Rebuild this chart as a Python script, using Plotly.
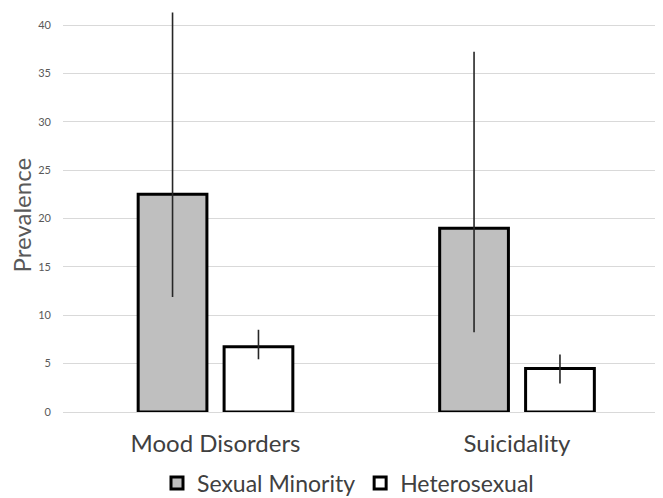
import plotly.graph_objects as go

categories = ["Mood Disorders", "Suicidality"]
series_names = ["Sexual Minority", "Heterosexual"]
minority = [22.5, 19.0]
minority_upper = [41.3, 37.25]
minority_lower = [11.9, 8.25]
hetero = [6.75, 4.5]
hetero_upper = [8.5, 5.95]
hetero_lower = [5.45, 2.95]
y_ticks = [0, 5, 10, 15, 20, 25, 30, 35, 40]

FONT = "Lato, Open Sans, sans-serif"

def err(vals, up, lo, color):
    return dict(type="data", symmetric=False,
                array=[u - v for u, v in zip(up, vals)],
                arrayminus=[v - l for v, l in zip(vals, lo)],
                color=color, thickness=1.6, width=0)

fig = go.Figure()
fig.add_trace(go.Bar(
    name=series_names[0], x=categories, y=minority,
    marker=dict(color="#bfbfbf", line=dict(color="#000000", width=3)),
    error_y=err(minority, minority_upper, minority_lower, "#262626"),
))
fig.add_trace(go.Bar(
    name=series_names[1], x=categories, y=hetero,
    marker=dict(color="#ffffff", line=dict(color="#000000", width=3)),
    error_y=err(hetero, hetero_upper, hetero_lower, "#262626"),
))

fig.add_annotation(text="Prevalence", xref="paper", yref="paper",
                   x=-0.07, y=0.489, xanchor="center", yanchor="middle",
                   textangle=-90, showarrow=False,
                   font=dict(size=24, color="#595959", family=FONT))

fig.update_layout(
    width=655, height=490,
    margin=dict(l=55, r=0, t=0, b=86, autoexpand=False),
    paper_bgcolor="white", plot_bgcolor="white",
    barmode="group", bargap=0.43, bargroupgap=0.2,
    font=dict(family=FONT, color="#595959"),
    showlegend=True,
    legend=dict(orientation="h", x=0.475, xanchor="center", y=-0.176, yanchor="middle",
                font=dict(size=23, color="#404040"), itemwidth=30, traceorder="normal"),
    xaxis=dict(range=[-0.5058, 1.4842], showgrid=False, showline=False, ticks="",
               automargin=False,
               tickfont=dict(size=24, color="#404040"), ticklabelstandoff=15),
    yaxis=dict(range=[0, 41.76], tickvals=y_ticks, showgrid=True, gridcolor="#d9d9d9",
               gridwidth=1, zeroline=True, zerolinecolor="#d9d9d9", zerolinewidth=1,
               automargin=False,
               showline=False, ticks="", tickfont=dict(size=11, color="#595959"),
               ticklabelstandoff=11),
)

fig.write_html("out.html")
